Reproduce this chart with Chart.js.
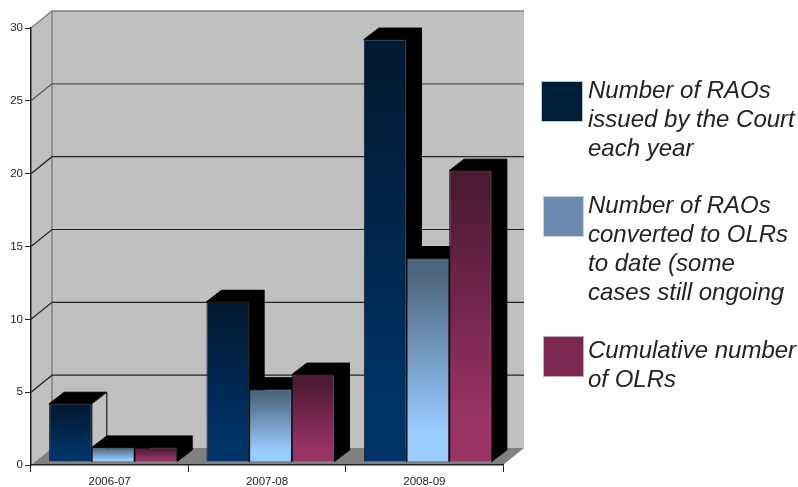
<!DOCTYPE html>
<html><head><meta charset="utf-8">
<style>html,body{margin:0;padding:0;background:#fff}canvas{display:block}</style>
<script src="https://cdn.jsdelivr.net/npm/chart.js@4"></script>
</head><body><canvas id="c" width="798" height="487"></canvas>
<script>
const categories = ['2006-07', '2007-08', '2008-09'];
const raosIssued = [4, 11, 29];
const raosConverted = [1, 5, 14];
const cumulativeOlrs = [1, 6, 20];
const yTicks = [0, 5, 10, 15, 20, 25, 30];
const legendIssued = ['Number of RAOs', 'issued by the Court', 'each year'];
const legendConverted = ['Number of RAOs', 'converted to OLRs', 'to date (some', 'cases still ongoing'];
const legendCumulative = ['Cumulative number', 'of OLRs'];

const WALL = {dx: 21, dy: -17}, BAR = {dx: 3.5, dy: -3}, DEPTH = {dx: 15, dy: -11.5};

function grad(dark, full) {
  return function (ctx) {
    if (ctx.type !== 'data') return full;
    const c = ctx.chart, y = c.scales.y;
    if (!y) return full;
    const y0 = y.getPixelForValue(ctx.dataset.data[ctx.dataIndex]), y1 = y.getPixelForValue(0);
    if (!isFinite(y0) || !isFinite(y1)) return full;
    const g = c.ctx.createLinearGradient(0, y0, 0, y1);
    g.addColorStop(0, dark);
    g.addColorStop(0.08, dark);
    g.addColorStop(0.85, full);
    g.addColorStop(1, full);
    return g;
  };
}
function poly(ctx, pts, fill, stroke) {
  ctx.beginPath();
  pts.forEach((p, i) => i ? ctx.lineTo(p[0], p[1]) : ctx.moveTo(p[0], p[1]));
  ctx.closePath();
  if (fill) { ctx.fillStyle = fill; ctx.fill(); }
  if (stroke) { ctx.strokeStyle = stroke; ctx.lineWidth = 1; ctx.stroke(); }
}
const walls = {
  id: 'walls',
  beforeDraw(chart) {
    const {ctx, chartArea: a, scales: {y}} = chart;
    ctx.save();
    const wl = a.left + WALL.dx, wr = a.right + WALL.dx, wt = a.top + WALL.dy, wb = a.bottom + WALL.dy;
    poly(ctx, [[wl, wt], [wr, wt], [wr, wb], [wl, wb]], '#c0c0c0');
    poly(ctx, [[a.left, a.top], [wl, wt], [wl, wb], [a.left, a.bottom]], '#c0c0c0');
    poly(ctx, [[a.left, a.bottom], [a.right, a.bottom], [wr, wb], [wl, wb]], '#808080');
    ctx.strokeStyle = '#808080'; ctx.lineWidth = 1.5;
    ctx.beginPath(); ctx.moveTo(wl, wt); ctx.lineTo(wl, wb); ctx.stroke();
    yTicks.slice(1).forEach(v => {
      const p = y.getPixelForValue(v);
      const top = v === yTicks[yTicks.length - 1];
      ctx.strokeStyle = top ? '#808080' : (v === 25 ? '#555' : '#222');
      ctx.lineWidth = top ? 1.5 : 1.2;
      ctx.beginPath();
      ctx.moveTo(a.left, p); ctx.lineTo(wl, p + WALL.dy); ctx.lineTo(wr, p + WALL.dy);
      ctx.stroke();
    });
    ctx.restore();
  },
  beforeDatasetsDraw(chart) {
    const ctx = chart.ctx;
    ctx.save();
    ctx.translate(BAR.dx, BAR.dy);
    chart.data.datasets.forEach((ds, di) => {
      chart.getDatasetMeta(di).data.forEach((b, i) => {
        const l = b.x - b.width / 2, r = b.x + b.width / 2, t = b.y, bt = b.base;
        const d = DEPTH;
        poly(ctx, [[l, t], [l + d.dx, t + d.dy], [r + d.dx, t + d.dy], [r, t]], '#000', '#000');
        const open = di === 0 && i === 0;
        poly(ctx, [[r, t], [r + d.dx, t + d.dy], [r + d.dx, bt + d.dy], [r, bt]], open ? '#c0c0c0' : '#000', '#000');
      });
    });
  },
  afterDatasetsDraw(chart) { chart.ctx.restore(); },
  afterDraw(chart) {
    const ctx = chart.ctx;
    ctx.save();
    const blocks = [
      {lines: legendIssued, box: [541.5, 81.5, 41, 40], fill: '#001f3d', edge: '#b8c6d6', first: 98, step: 29.3},
      {lines: legendConverted, box: [543.5, 196.5, 40, 40], fill: '#6b8ab0', edge: '#c6d2e0', first: 213, step: 29},
      {lines: legendCumulative, box: [543.5, 336.5, 40, 40], fill: '#7a2850', edge: '#c9a9b9', first: 358, step: 29}
    ];
    blocks.forEach(b => {
      ctx.fillStyle = b.fill; ctx.strokeStyle = b.edge; ctx.lineWidth = 1;
      ctx.fillRect(...b.box); ctx.strokeRect(...b.box);
      ctx.fillStyle = '#222';
      ctx.font = 'italic 24px "Liberation Sans", Arial, sans-serif';
      ctx.textAlign = 'left'; ctx.textBaseline = 'alphabetic';
      b.lines.forEach((ln, i) => ctx.fillText(ln, 588, Math.floor(b.first + i * b.step)));
    });
    ctx.restore();
  }
};
new Chart(document.getElementById('c'), {
  type: 'bar',
  data: {
    labels: categories,
    datasets: [
      {label: legendIssued.join(' '), data: raosIssued, backgroundColor: grad('#001a33', '#003366')},
      {label: legendConverted.join(' '), data: raosConverted, backgroundColor: grad('#4d6680', '#99ccff')},
      {label: legendCumulative.join(' '), data: cumulativeOlrs, backgroundColor: grad('#4d1a33', '#993366')}
    ]
  },
  plugins: [walls],
  options: {
    responsive: false,
    animation: false,
    devicePixelRatio: 1,
    layout: {padding: {left: 0, top: 28, right: 295, bottom: 0}},
    datasets: {bar: {barPercentage: 1, categoryPercentage: 0.814, borderWidth: 1, borderColor: '#101820', clip: false}},
    plugins: {legend: {display: false}, title: {display: false}, tooltip: {enabled: false}},
    scales: {
      x: {
        afterFit(s) { s.height = 22; },
        grid: {drawOnChartArea: false, tickLength: 7, color: '#222', tickWidth: 1},
        border: {color: '#222', width: 1.5},
        ticks: {font: {size: 11.5, family: '"Liberation Sans", Arial, sans-serif'}, color: '#222', padding: 3, maxRotation: 0}
      },
      y: {
        min: 0, max: 30,
        afterFit(s) { s.width = 31; },
        afterBuildTicks(s) { s.ticks = yTicks.map(v => ({value: v})); },
        grid: {drawOnChartArea: false, tickLength: 6, color: '#222', tickWidth: 1},
        border: {color: '#222', width: 1.5},
        ticks: {font: {size: 11.5, family: '"Liberation Sans", Arial, sans-serif'}, color: '#222', padding: 2}
      }
    }
  }
});
</script></body></html>
